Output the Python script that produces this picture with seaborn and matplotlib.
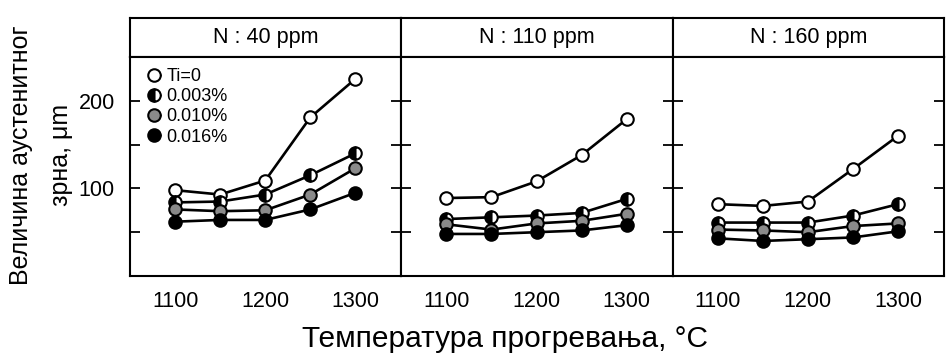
import numpy as np
import pandas as pd
import matplotlib
matplotlib.use("Agg")
import matplotlib.pyplot as plt
import seaborn as sns

sns.set_theme(style="white")
plt.rcParams['font.family'] = ['Liberation Sans', 'DejaVu Sans']
plt.rcParams['text.color'] = 'black'

temps = [1100, 1150, 1200, 1250, 1300]
panels = ["N : 40 ppm", "N : 110 ppm", "N : 160 ppm"]
series = ["Ti=0", "0.003%", "0.010%", "0.016%"]

# grain size (μm) per panel, per series
n40 = {
    "Ti=0":   [98, 93, 109, 181, 225],
    "0.003%": [84, 85, 93, 115, 140],
    "0.010%": [76, 74, 75, 93, 123],
    "0.016%": [62, 64, 64, 76, 95],
}
n110 = {
    "Ti=0":   [89, 90, 108, 138, 179],
    "0.003%": [65, 67, 69, 72, 88],
    "0.010%": [59, 53, 60, 63, 71],
    "0.016%": [48, 48, 50, 52, 58],
}
n160 = {
    "Ti=0":   [82, 80, 85, 122, 160],
    "0.003%": [61, 61, 61, 69, 82],
    "0.010%": [53, 52, 50, 57, 60],
    "0.016%": [43, 40, 42, 44, 51],
}
panel_data = [n40, n110, n160]

xticks = [1100, 1200, 1300]
yticks = [50, 100, 150, 200]
ytick_labels = ["", "100", "", "200"]

styles = {
    "Ti=0":   dict(markerfacecolor="white", fillstyle="full"),
    "0.003%": dict(markerfacecolor="black", fillstyle="left", markerfacecoloralt="white"),
    "0.010%": dict(markerfacecolor="#8a8a8a", fillstyle="full"),
    "0.016%": dict(markerfacecolor="black", fillstyle="full"),
}

fig = plt.figure(figsize=(9.46, 3.6), dpi=100)
gs = fig.add_gridspec(2, 3, left=130/946, right=944/946, top=1-18/360, bottom=1-276/360,
                      height_ratios=[39, 219], wspace=0, hspace=0)

for i, (title, data) in enumerate(zip(panels, panel_data)):
    hax = fig.add_subplot(gs[0, i])
    hax.set_xticks([]); hax.set_yticks([])
    hax.text(0.5, 0.5, title, ha="center", va="center", fontsize=15.5, color="black",
             transform=hax.transAxes)
    for s in hax.spines.values():
        s.set_linewidth(1.5); s.set_color("black")

    ax = fig.add_subplot(gs[1, i])
    for name in series:
        df = pd.DataFrame({"T": temps, "d": data[name]})
        sns.lineplot(data=df, x="T", y="d", ax=ax, color="black", lw=1.9,
                     marker="o", markersize=9, markeredgecolor="black", markeredgewidth=1.5,
                     label=name if i == 0 else None, legend=False, **styles[name])
    ax.set_xlim(1050, 1351)
    ax.set_ylim(0, 250)
    ax.set_xticks(xticks)
    ax.set_yticks(yticks)
    ax.set_xlabel(""); ax.set_ylabel("")
    ax.tick_params(axis="x", direction="in", length=7, width=1.3, labelsize=15.5, pad=11,
                   colors="black")
    ax.tick_params(axis="y", direction="in", length=7, width=1.3, labelsize=15.5, pad=11,
                   right=True, left=True, colors="black")
    if i == 0:
        ax.set_yticklabels(ytick_labels)
        leg = ax.legend(loc="upper left", frameon=False, fontsize=13, handlelength=0.6,
                        handletextpad=0.35, labelspacing=0.18, borderaxespad=0.2,
                        bbox_to_anchor=(0.03, 1.0))
        for t in leg.get_texts():
            t.set_color("black")
    else:
        ax.set_yticklabels([])
    for s in ax.spines.values():
        s.set_linewidth(1.5); s.set_color("black")

fig.text(0.022, 0.57, "Величина аустенитног", rotation=90, ha="center", va="center", fontsize=18)
fig.text(0.065, 0.57, "зрна, μm", rotation=90, ha="center", va="center", fontsize=18)
fig.text(0.534, 0.058, "Температура прогревања, °C", ha="center", va="center", fontsize=21.5)

fig.savefig("out.png", dpi=100)
